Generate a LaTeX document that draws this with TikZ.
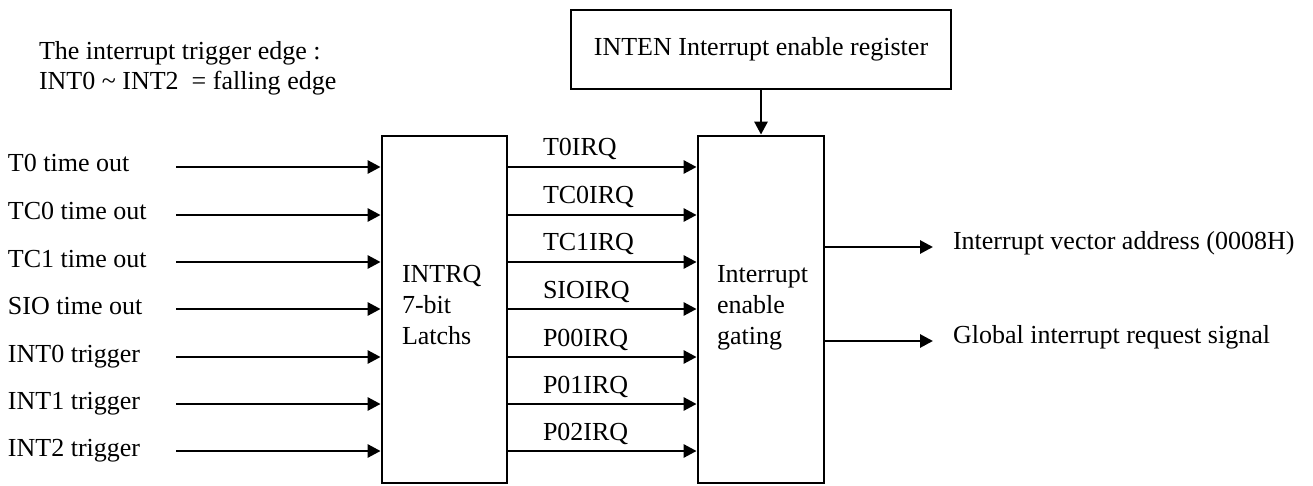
\documentclass[tikz,border=0pt]{standalone}
\usepackage{fontspec}
\setmainfont{Liberation Serif}
\usetikzlibrary{arrows.meta}
\begin{document}
\begin{tikzpicture}[x=1pt,y=-1pt,
  txt/.style={inner sep=0pt,outer sep=0pt,anchor=base west,font=\fontsize{26}{31}\selectfont},
  blk/.style={draw,line width=2.8pt,inner sep=0pt},
  arr/.style={line width=2.8pt,-{Triangle[length=13pt,width=13pt]}}]
\useasboundingbox (0,0) rectangle (1313,486);
% blocks
\node[blk,minimum width=380pt,minimum height=79pt,font=\fontsize{26}{31}\selectfont] (inten) at (761,49.5) {INTEN Interrupt enable register};
\node[blk,minimum width=125pt,minimum height=347pt] (latch) at (444.5,309.5) {};
\node[blk,minimum width=126pt,minimum height=347pt] (gate) at (761,309.5) {};
% block texts
\node[txt] (l1) at (402,282) {INTRQ};
\node[txt] (l2) at (402,313) {7-bit};
\node[txt] (l3) at (402,344) {Latchs};
\node[txt] (g1) at (717,282) {Interrupt};
\node[txt] (g2) at (717,313) {enable};
\node[txt] (g3) at (717,344) {gating};
% note
\node[txt] (n1) at (39,60) {The interrupt trigger edge :};
\node[txt] (n2) at (39,90) {INT0 \textasciitilde{} INT2 \ = falling edge};
% enable arrow
\draw[arr] (inten.south) -- (gate.north);
% inputs
\foreach \y/\t/\n in {167/T0 time out/a,215/TC0 time out/b,262/TC1 time out/c,309/SIO time out/d,357/INT0 trigger/e,404/INT1 trigger/f,451/INT2 trigger/g}{
  \node[txt] (lab\n) at (8,\y+5) {\t};
  \coordinate (in\n) at (176,\y);
  \draw[arr] (in\n) -- (latch.west |- in\n);
}
% IRQ lines
\foreach \y/\t/\n in {167/T0IRQ/a,215/TC0IRQ/b,262/TC1IRQ/c,309/SIOIRQ/d,357/P00IRQ/e,404/P01IRQ/f,451/P02IRQ/g}{
  \coordinate (q\n) at (507,\y);
  \node[txt] (irq\n) at (543,\y-11) {\t};
  \draw[arr] (latch.east |- q\n) -- (gate.west |- q\n);
}
% outputs
\coordinate (o1) at (933,247);
\coordinate (o2) at (933,341);
\draw[arr] (gate.east |- o1) -- (o1);
\draw[arr] (gate.east |- o2) -- (o2);
\node[txt] (out1) at (953,250) {Interrupt vector address (0008H)};
\node[txt] (out2) at (953,343) {Global interrupt request signal};
\end{tikzpicture}
\end{document}
